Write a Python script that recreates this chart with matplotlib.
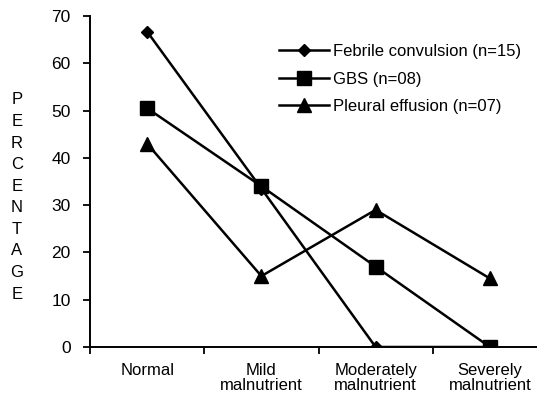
import matplotlib
matplotlib.use('Agg')
from matplotlib import pyplot as plt

# Data
categories = ['Normal', 'Mild\nmalnutrient', 'Moderately\nmalnutrient', 'Severely\nmalnutrient']
febrile = [66.7, 33.5, 0, 0]
gbs = [50.5, 34, 17, 0]
pleural = [43, 15, 29, 14.5]
series_names = ['Febrile convulsion (n=15)', 'GBS (n=08)', 'Pleural effusion (n=07)']

plt.rcParams['font.family'] = ['Liberation Sans', 'DejaVu Sans']

fig = plt.figure(figsize=(5.37, 3.99), dpi=100)
# axis runs a little past the right edge, as in the scan
ax = fig.add_axes([90 / 537, 1 - 347 / 399, 457 / 537, 331 / 399])

xs = [i + 0.5 for i in range(len(categories))]
ax.plot(xs, febrile, color='black', lw=1.8, marker='D', ms=6, label=series_names[0])
ax.plot(xs, gbs, color='black', lw=1.8, marker='s', ms=9.5, label=series_names[1])
ax.plot(xs, pleural, color='black', lw=1.8, marker='^', ms=9.5, label=series_names[2])

ax.set_xlim(0, 4)
ax.set_ylim(0, 70)
ax.set_yticks(range(0, 71, 10))
ax.set_xticks(range(0, 5))
ax.set_xticklabels([])
for x, lab in zip(xs, categories):
    ax.text(x, -3.3, lab, ha='center', va='top', fontsize=12, linespacing=1.05)

ax.spines['top'].set_visible(False)
ax.spines['right'].set_visible(False)
ax.spines['left'].set_linewidth(1.4)
ax.spines['bottom'].set_linewidth(1.4)
ax.tick_params(axis='both', direction='out', length=5, width=1.3, labelsize=12.5)
ax.tick_params(axis='y', pad=9)

fig.text(17 / 537, 1 - 197 / 399, '\n'.join('PERCENTAGE'), ha='center', va='center',
         fontsize=12, linespacing=1.55)

ax.legend(loc='upper left', bbox_to_anchor=(0.40, 0.935), frameon=False, fontsize=12,
          handlelength=3.0, handletextpad=0.2, labelspacing=0.75, borderaxespad=0)

fig.savefig('out.png', dpi=100)
